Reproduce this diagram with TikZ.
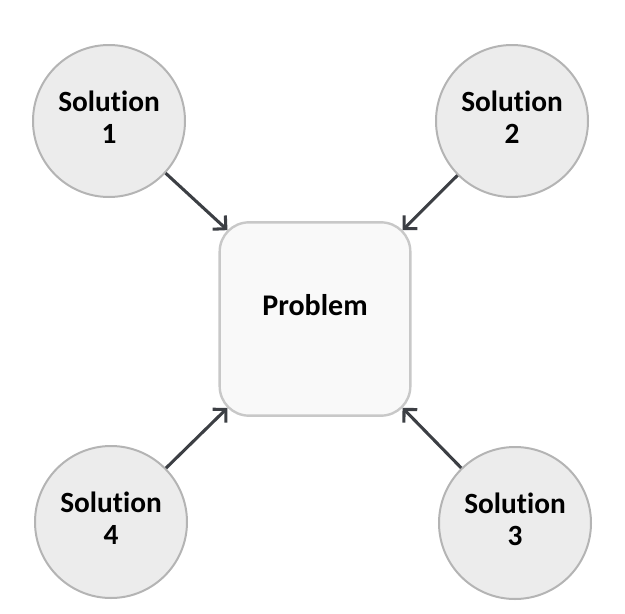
\documentclass[tikz,border=0pt]{standalone}
\usepackage{fontspec}
\setmainfont{Carlito}[RawFeature=-liga]
\usetikzlibrary{arrows.meta}
\definecolor{cfill}{HTML}{ECECEC}
\definecolor{cdraw}{HTML}{B4B4B4}
\definecolor{bfill}{HTML}{F9F9F9}
\definecolor{bdraw}{HTML}{C8C8C8}
\definecolor{arrc}{HTML}{3C3F44}
\newcommand{\soltxt}[1]{\raisebox{3.5pt}{\begin{tabular}{@{}c@{}}Solution\\#1\end{tabular}}}
\begin{document}
\begin{tikzpicture}[x=0.75pt,y=-0.75pt,
  sol/.style={circle,draw=cdraw,fill=cfill,line width=1.5pt,minimum size=114pt,inner sep=0pt,
    font=\fontsize{22}{24.5}\selectfont\bfseries},
  prob/.style={rectangle,rounded corners=22pt,draw=bdraw,fill=bfill,line width=1.8pt,
    minimum width=143pt,minimum height=145pt,font=\fontsize{22.5}{26}\selectfont\bfseries},
  arr/.style={draw=arrc,line width=2.3pt,-{Straight Barb[length=7pt,width=14pt,line width=2.3pt]}}]
\useasboundingbox (0,0) rectangle (625,614);
\node[prob] (p) at (315,319) {\raisebox{21pt}{Problem}};
\node[sol] (s1) at (109,121) {\soltxt{1}};
\node[sol] (s2) at (512,121) {\soltxt{2}};
\node[sol] (s4) at (111,522) {\soltxt{4}};
\node[sol] (s3) at (515,523) {\soltxt{3}};
\coordinate (t1) at ([shift={(9,9)}]p.north west);
\coordinate (t2) at ([shift={(-9,9)}]p.north east);
\coordinate (t4) at ([shift={(9,-9)}]p.south west);
\coordinate (t3) at ([shift={(-9,-9)}]p.south east);
\draw[arr] (s1) -- (t1);
\draw[arr] (s2) -- (t2);
\draw[arr] (s4) -- (t4);
\draw[arr] (s3) -- (t3);
\end{tikzpicture}
\end{document}
